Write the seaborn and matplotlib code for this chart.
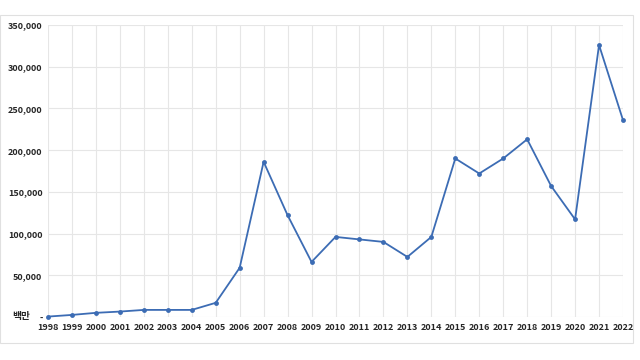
import numpy as np
import pandas as pd
import matplotlib
matplotlib.use('Agg')
import matplotlib.pyplot as plt
import seaborn as sns
from matplotlib.patches import Rectangle
from matplotlib.ticker import FuncFormatter

# 연도별 값 (단위: 백만)
years = list(range(1998, 2023))
values = [500, 2500, 5000, 6500, 8500, 8500, 8500, 17000, 59000, 186000,
          122000, 66000, 96000, 93000, 90000, 72000, 96000, 190000, 172000,
          190000, 213000, 157000, 117000, 326000, 236000]
unit_label = '백만'

df = pd.DataFrame({'year': years, 'value': values})

sns.set_style('white')
plt.rcParams['font.family'] = ['Noto Sans CJK KR', 'DejaVu Sans']

fig = plt.figure(figsize=(6.4, 3.6), dpi=100)
ax = fig.add_axes([48 / 640, 1 - 317 / 360, (623 - 48) / 640, (317 - 25) / 360])

sns.lineplot(data=df, x='year', y='value', ax=ax, color='#3c6cb4',
             linewidth=1.3, marker='o', markersize=3.5, markeredgewidth=0)
for ln in ax.lines:
    ln.set_clip_on(False)

ax.set_xlim(1998, 2022)
ax.set_ylim(0, 350000)
ax.set_xticks(years)
ax.set_yticks(np.arange(0, 350001, 50000))
ax.yaxis.set_major_formatter(FuncFormatter(lambda v, p: '-' if v == 0 else f'{int(v):,}'))
ax.grid(True, color='#e6e6e6', linewidth=0.8)
for s in ax.spines.values():
    s.set_visible(False)
ax.tick_params(axis='both', length=0, labelsize=6.5, pad=4)
for lbl in ax.get_xticklabels() + ax.get_yticklabels():
    lbl.set_fontweight('bold')
ax.set_xlabel('')
ax.set_ylabel('')

# 단위 표시
fig.text(12 / 640, 1 - 316 / 360, unit_label, fontsize=7,
         fontweight='bold', ha='left', va='center')

fig.patches.append(Rectangle((0, 1 - 343 / 360), 633 / 640, (343 - 15) / 360,
                             transform=fig.transFigure, fill=False,
                             edgecolor='#e0e0e0', linewidth=0.8))

fig.savefig('out.png', dpi=100)
